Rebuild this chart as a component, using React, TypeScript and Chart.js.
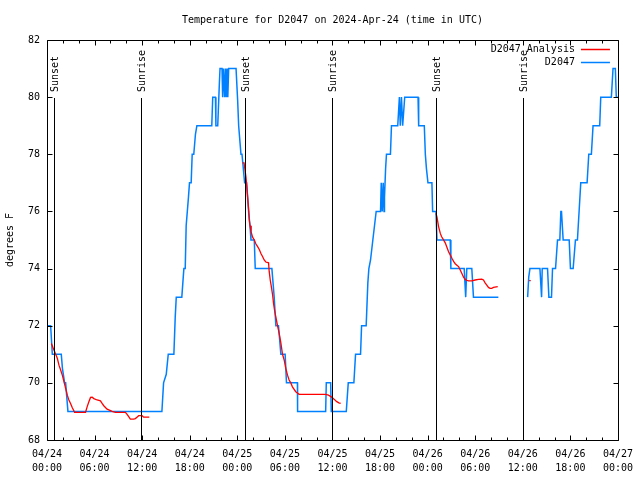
import React, { useEffect, useRef } from "react";
import { Chart, registerables } from "chart.js";

Chart.register(...registerables);

const chartTitle = "Temperature for D2047 on 2024-Apr-24 (time in UTC)";
const yAxisTitle = "degrees F";
const analysisLabel = "D2047 Analysis";
const obsLabel = "D2047";

// x values are hours since 04/24 00:00 UTC
const xTickLabels = [
  ["04/24", "00:00"], ["04/24", "06:00"], ["04/24", "12:00"], ["04/24", "18:00"],
  ["04/25", "00:00"], ["04/25", "06:00"], ["04/25", "12:00"], ["04/25", "18:00"],
  ["04/26", "00:00"], ["04/26", "06:00"], ["04/26", "12:00"], ["04/26", "18:00"],
  ["04/27", "00:00"],
];

const sunsetHours = [0.92, 24.97, 49.02];
const sunriseHours = [11.9, 35.95, 59.98];

const obsHours = [
  0, 0.46, 0.67, 1.8, 1.95, 2.22, 2.35, 2.64,
  14.49, 14.7, 15.04, 15.29, 16.0, 16.17, 16.3, 17.0, 17.26, 17.43, 17.55, 17.84, 17.97, 18.18, 18.31, 18.51, 18.72, 18.9,
  20.78, 20.9, 21.24, 21.3, 21.53, 21.74, 21.82, 22.07, 22.15, 22.25, 22.4, 22.5, 22.6, 22.7, 22.8, 22.91, 23.84,
  24.04, 24.17, 24.46, 24.59, 24.92, 25.17, 25.3, 25.42, 25.6, 25.72, 26.14, 26.26, 28.36, 28.65, 28.86, 29.19, 29.49,
  30.03, 30.2, 31.58, 31.6, 35.14, 35.22, 35.77, 35.85, 37.74, 37.99, 38.7, 38.91, 39.54, 39.67, 40.25, 40.46, 40.59,
  40.8, 41.09, 41.3, 41.51, 42.06, 42.15, 42.27, 42.4, 42.5, 42.56, 42.7, 42.81, 43.31, 43.44, 44.23, 44.44, 44.55,
  44.7, 44.85, 45.11, 46.79, 46.87, 47.58, 47.71, 47.85, 48.04, 48.54, 48.63, 49.05, 49.18, 50.85, 50.93, 52.61,
  52.8, 52.94, 53.57, 53.78, 56.92,
  58.5,
  60.61, 60.75, 60.9, 62.16, 62.37, 62.45, 63.12, 63.29, 63.62, 63.75, 64.13, 64.38, 64.67, 64.8, 64.88, 65.09,
  65.85, 66.01, 66.35, 66.64, 66.89, 67.1, 67.31, 68.11, 68.32, 68.65, 68.86, 69.7, 69.83, 71.17, 71.38, 71.67,
  71.79, 72,
];
const obsTemps = [
  72, 72, 71, 71, 70.5, 70, 70, 69,
  69, 70, 70.3, 71, 71, 72.3, 73, 73, 74, 74, 75.5, 76.5, 77, 77, 78, 78, 78.7, 79,
  79, 80, 80, 79, 79, 80.5, 81, 81, 80, 81, 80, 81, 80, 81, 80, 81, 81,
  79.9, 79, 78, 78, 77, 77, 76.5, 76, 75.5, 75, 75, 74, 74, 73, 72, 72, 71,
  71, 70, 70, 69, 69, 70, 70, 69, 69, 70, 70, 71, 71, 72, 72, 73.5, 74,
  74.3, 75, 75.5, 76, 76, 77, 76, 77, 76, 76.5, 77.5, 78, 78, 79, 79, 80, 79,
  80, 79, 80, 80, 79, 79, 78, 77.5, 77, 77, 76, 76, 75, 75, 74, 74,
  73, 74, 74, 73, 73,
  null,
  73, 73.7, 74, 74, 73, 74, 74, 73, 73, 74, 74, 75, 75, 76, 76, 75,
  75, 74, 74, 75, 75, 76, 77, 77, 78, 78, 79, 79, 80, 80, 81, 81,
  80, 80,
];

const analysisHours = [
  0.55, 0.8, 1.09, 1.3, 1.51, 1.72, 1.93, 2.14, 2.35, 2.56, 2.76, 2.97, 3.18, 3.48, 4.86, 5.07, 5.28, 5.49, 5.7,
  5.91, 6.32, 6.74, 6.95, 7.16, 7.37, 7.58, 8.0, 8.21, 8.63, 9.89, 10.1, 10.3, 10.51, 10.93, 11.14, 11.35, 11.56,
  11.98, 12.19, 12.9,
  13.5,
  24.67, 24.85, 25.09, 25.2, 25.3, 25.42, 25.51, 25.6, 25.72, 25.93, 26.14, 26.35, 26.56, 26.77, 26.98, 27.18,
  27.39, 27.6, 27.94, 28.02, 28.15, 28.27, 28.44, 28.56, 28.69, 28.86, 29.07, 29.28, 29.49, 29.7, 29.91, 30.12,
  30.33, 30.53, 30.74, 30.95, 31.37, 31.79, 35.14, 35.5, 35.9, 36.2, 36.5, 36.8, 37.03,
  40,
  49.05, 49.18, 49.3, 49.38, 49.6, 49.75, 49.89, 50.06, 50.22, 50.43, 50.64, 50.85, 51.06, 51.27, 51.48, 51.69,
  51.9, 52.11, 52.32, 52.53, 52.74, 52.95, 53.15, 53.57, 53.99, 54.41, 54.83, 55.04, 55.25, 55.46, 55.67, 55.88,
  56.09, 56.3, 56.84,
  58.5,
  60.8, 61.0,
];
const analysisTemps = [
  71.38, 71.2, 71.0, 70.86, 70.62, 70.45, 70.27, 70.04, 69.81, 69.57, 69.4, 69.28, 69.14, 68.97, 68.97, 69.17,
  69.34, 69.49, 69.5, 69.45, 69.4, 69.37, 69.28, 69.2, 69.14, 69.08, 69.03, 69.0, 68.97, 68.97, 68.9, 68.82,
  68.73, 68.73, 68.75, 68.8, 68.85, 68.85, 68.8, 68.8,
  null,
  77.7, 77.7, 77.2, 76.87, 76.5, 76.1, 75.7, 75.5, 75.3, 75.1, 75.0, 74.86, 74.77, 74.67, 74.53, 74.42,
  74.3, 74.23, 74.2, 73.9, 73.6, 73.4, 73.1, 72.8, 72.55, 72.3, 72.0, 71.73, 71.4, 71.0, 70.8, 70.5,
  70.27, 70.1, 70.0, 69.86, 69.69, 69.6, 69.6, 69.57, 69.5, 69.43, 69.35, 69.3, 69.28,
  null,
  75.93, 75.8, 75.6, 75.47, 75.23, 75.12, 75.06, 74.98, 74.9, 74.75, 74.59, 74.48, 74.36, 74.25, 74.17, 74.12,
  74.07, 73.95, 73.83, 73.7, 73.62, 73.59, 73.57, 73.57, 73.6, 73.62, 73.63, 73.6, 73.5, 73.42, 73.34, 73.31,
  73.31, 73.34, 73.37,
  null,
  73.58, 73.58,
];

const FONT = "'DejaVu Sans Mono', 'Liberation Mono', monospace";

const gnuplotPlugin = {
  id: "gnuplotDecor",
  afterDatasetsDraw(chart: any) {
    const { ctx, chartArea: a, scales } = chart;
    const xs = scales.x;
    const ys = scales.y;
    const L = Math.round(a.left) + 0.5;
    const R = Math.round(a.right) + 0.5;
    const T = Math.round(a.top) + 0.5;
    const B = Math.round(a.bottom) + 0.5;
    ctx.save();
    ctx.font = `10px ${FONT}`;
    ctx.fillStyle = "#000";
    ctx.strokeStyle = "#000";
    ctx.lineWidth = 1;

    // sunrise / sunset markers
    const marks: [number, string][] = [
      ...sunsetHours.map((h) => [h, "Sunset"] as [number, string]),
      ...sunriseHours.map((h) => [h, "Sunrise"] as [number, string]),
    ];
    marks.forEach(([h, txt]) => {
      const px = Math.round(xs.getPixelForValue(h)) + 0.5;
      ctx.beginPath();
      ctx.moveTo(px, a.top + 58);
      ctx.lineTo(px, B);
      ctx.stroke();
      ctx.save();
      ctx.translate(px + 1, a.top + 52);
      ctx.rotate(-Math.PI / 2);
      ctx.textAlign = "left";
      ctx.textBaseline = "middle";
      ctx.fillText(txt, 0, 0);
      ctx.restore();
    });

    // frame
    ctx.beginPath();
    ctx.rect(L, T, R - L, B - T);
    ctx.stroke();

    // ticks
    ctx.beginPath();
    for (let h = 0; h <= 72; h += 2) {
      const px = Math.round(xs.getPixelForValue(h)) + 0.5;
      const len = h % 6 === 0 ? 5 : 3;
      ctx.moveTo(px, B);
      ctx.lineTo(px, B - len);
      ctx.moveTo(px, T);
      ctx.lineTo(px, T + len);
    }
    for (let v = 68; v <= 82; v += 2) {
      const py = Math.round(ys.getPixelForValue(v)) + 0.5;
      ctx.moveTo(L, py);
      ctx.lineTo(L + 5, py);
      ctx.moveTo(R, py);
      ctx.lineTo(R - 5, py);
    }
    ctx.stroke();

    // title
    ctx.textAlign = "center";
    ctx.textBaseline = "middle";
    ctx.fillText(chartTitle, (a.left + a.right) / 2, 20);

    // y axis title
    ctx.save();
    ctx.translate(10, (a.top + a.bottom) / 2);
    ctx.rotate(-Math.PI / 2);
    ctx.fillText(yAxisTitle, 0, 0);
    ctx.restore();

    // legend
    chart.data.datasets.forEach((ds: any, i: number) => {
      const y = a.top + 9 + i * 13;
      ctx.textAlign = "right";
      ctx.textBaseline = "middle";
      ctx.fillStyle = "#000";
      ctx.fillText(ds.label, a.right - 43, y);
      ctx.strokeStyle = ds.borderColor;
      ctx.lineWidth = 1.5;
      ctx.beginPath();
      ctx.moveTo(a.right - 37, Math.round(y) + 0.5);
      ctx.lineTo(a.right - 8, Math.round(y) + 0.5);
      ctx.stroke();
    });
    ctx.restore();
  },
};

export default function App() {
  const canvasRef = useRef<HTMLCanvasElement | null>(null);

  useEffect(() => {
    if (!canvasRef.current) return;
    const analysisData = analysisHours.map((h, i) => ({ x: h, y: analysisTemps[i] }));
    const obsData = obsHours.map((h, i) => ({ x: h, y: obsTemps[i] }));
    const chart = new Chart(canvasRef.current, {
      type: "line",
      data: {
        datasets: [
          {
            label: analysisLabel,
            data: analysisData as any,
            borderColor: "#ff0000",
            borderWidth: 1.3,
            pointRadius: 0,
            tension: 0,
            spanGaps: false,
          },
          {
            label: obsLabel,
            data: obsData as any,
            borderColor: "#0080ff",
            borderWidth: 1.5,
            pointRadius: 0,
            tension: 0,
            spanGaps: false,
          },
        ],
      },
      options: {
        animation: false,
        responsive: false,
        maintainAspectRatio: false,
        layout: { padding: { top: 40, right: 20, bottom: 0, left: 0 } },
        plugins: {
          legend: { display: false },
          title: { display: false },
          tooltip: { enabled: false },
        },
        scales: {
          x: {
            type: "linear",
            min: 0,
            max: 72,
            grid: { display: false, drawTicks: false },
            border: { display: false },
            afterFit: (s: any) => {
              s.height = 40;
            },
            ticks: {
              stepSize: 6,
              autoSkip: false,
              maxRotation: 0,
              minRotation: 0,
              padding: 7,
              color: "#000",
              font: { family: FONT, size: 10, lineHeight: 1.4 },
              callback: (v: any) => xTickLabels[Math.round(Number(v) / 6)],
            },
          },
          y: {
            type: "linear",
            min: 68,
            max: 82,
            grid: { display: false, drawTicks: false },
            border: { display: false },
            afterFit: (s: any) => {
              s.width = 47;
            },
            ticks: {
              stepSize: 2,
              padding: 7,
              color: "#000",
              font: { family: FONT, size: 10 },
              callback: (v: any) => String(v),
            },
          },
        },
      },
      plugins: [gnuplotPlugin],
    });
    return () => chart.destroy();
  }, []);

  return (
    <div style={{ position: "absolute", left: 0, top: 0, width: 640, height: 480, background: "#fff" }}>
      <canvas ref={canvasRef} width={640} height={480} />
    </div>
  );
}
